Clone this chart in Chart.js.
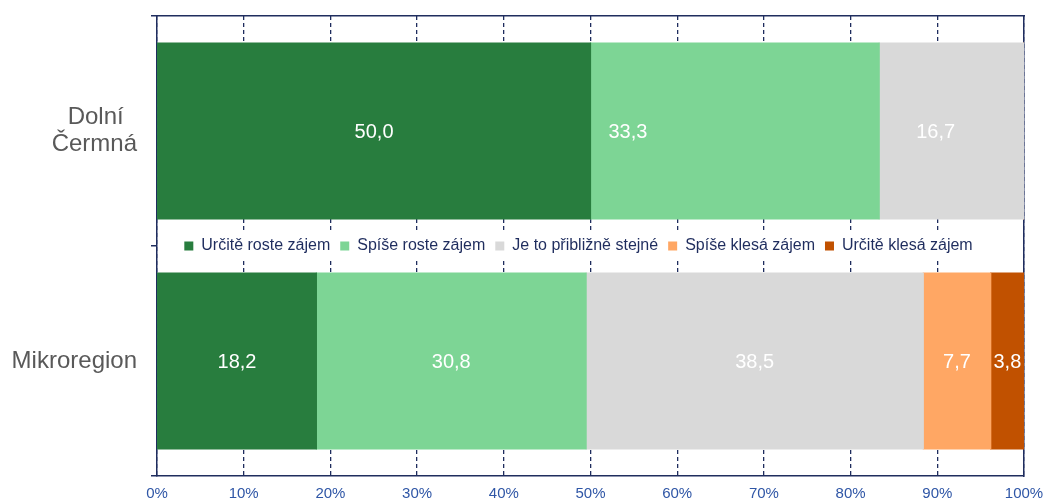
<!DOCTYPE html>
<html>
<head>
<meta charset="utf-8">
<script src="https://cdn.jsdelivr.net/npm/chart.js@4/dist/chart.umd.min.js"></script>
<style>
  html, body { margin: 0; padding: 0; background: #ffffff; }
  #c { display: block; }
</style>
</head>
<body>
<canvas id="c" width="1045" height="502"></canvas>
<script>
// ---- data ----
const categories = [['Dolní  ', 'Čermná'], 'Mikroregion'];
const seriesNames = ['Určitě roste zájem', 'Spíše roste zájem', 'Je to přibližně stejné', 'Spíše klesá zájem', 'Určitě klesá zájem'];
const urciteRoste = [50.0, 18.2];
const spiseRoste = [33.3, 30.8];
const stejne = [16.7, 38.5];
const spiseKlesa = [0, 7.7];
const urciteKlesa = [0, 3.8];
const xTickStep = 10;

// ---- styles ----
const seriesColors = ['#287D3E', '#7DD595', '#D9D9D9', '#FFA764', '#C15100'];
const NAVY = '#1F2D5E';
const FONT = '"Liberation Sans", Arial, sans-serif';
// manual horizontal nudges of some value labels (dataset,category -> px), as in the original
const labelNudge = { '1,0': -107, '2,0': -16 };

const raw = [urciteRoste, spiseRoste, stejne, spiseKlesa, urciteKlesa];
const totals = categories.map((_, i) => raw.reduce((s, a) => s + a[i], 0));

Chart.defaults.font.family = FONT;

const datasets = raw.map((vals, k) => ({
  label: seriesNames[k],
  data: vals.map((v, i) => v / totals[i] * 100),
  values: vals,
  backgroundColor: seriesColors[k],
  borderWidth: 0,
  inflateAmount: 0.6,
  categoryPercentage: 1,
  barPercentage: 0.765,
  xAxisID: 'x',
  yAxisID: 'y'
}));

function noPad(s) {
  s.paddingTop = 0; s.paddingBottom = 0; s.paddingLeft = 0; s.paddingRight = 0;
}

const legendPlacer = {
  id: 'legendPlacer',
  beforeLayout(chart) {
    const lg = chart.legend;
    if (lg && !lg._patched) {
      lg._patched = true;
      const origFit = lg.fit.bind(lg);
      lg.fit = function () { origFit(); this._realH = this.height; this.height = 0; };
      const origDraw = lg.draw.bind(lg);
      lg.draw = function (area) {
        const hb = this.legendHitBoxes || [];
        if (hb.length) {
          const ctx = chart.ctx;
          let l = Infinity, r = -Infinity;
          hb.forEach(b => { l = Math.min(l, b.left); r = Math.max(r, b.left + b.width); });
          const cy = (this.top + this.bottom) / 2;
          ctx.save();
          ctx.fillStyle = '#ffffff';
          ctx.fillRect(l - 6, cy - 13, (r - l) + 12, 26);
          ctx.restore();
        }
        origDraw(area);
      };
    }
  },
  afterLayout(chart) {
    const lg = chart.legend;
    const ca = chart.chartArea;
    const y = chart.scales.y;
    const cy = (y.getPixelForValue(0) + y.getPixelForValue(1)) / 2;
    const h = lg._realH || 30;
    lg.top = cy - h / 2;
    lg.bottom = lg.top + h;
    lg.height = h;
    const cx = (ca.left + ca.right) / 2 - 12;
    lg.left = cx - 440;
    lg.right = cx + 440;
    lg.width = 880;
  }
};

const valueLabels = {
  id: 'valueLabels',
  afterDatasetsDraw(chart) {
    const ctx = chart.ctx;
    ctx.save();
    ctx.font = '20px ' + FONT;
    ctx.fillStyle = '#FFFFFF';
    ctx.textAlign = 'center';
    ctx.textBaseline = 'middle';
    chart.data.datasets.forEach((ds, di) => {
      const meta = chart.getDatasetMeta(di);
      meta.data.forEach((el, i) => {
        const v = ds.values[i];
        if (!v) return;
        const p = el.getCenterPoint();
        const dx = labelNudge[di + ',' + i] || 0;
        ctx.fillText(v.toFixed(1).replace('.', ','), p.x + dx, p.y + 1);
      });
    });
    ctx.restore();
  }
};

new Chart(document.getElementById('c'), {
  type: 'bar',
  data: { labels: categories, datasets },
  plugins: [legendPlacer, valueLabels],
  options: {
    indexAxis: 'y',
    responsive: false,
    animation: false,
    devicePixelRatio: 1,
    layout: { padding: { top: 16, right: 21, left: 0, bottom: 0 } },
    plugins: {
      tooltip: { enabled: false },
      legend: {
        position: 'top',
        align: 'center',
        labels: {
          boxWidth: 9,
          boxHeight: 9,
          padding: 10,
          color: NAVY,
          font: { size: 16, family: FONT }
        }
      }
    },
    scales: {
      x: {
        type: 'linear',
        position: 'bottom',
        stacked: true,
        min: 0,
        max: 100,
        ticks: {
          stepSize: xTickStep,
          callback: v => v + '%',
          color: '#2F56A6',
          font: { size: 15, family: FONT },
          padding: 9,
          maxRotation: 0,
          autoSkip: false
        },
        grid: { color: NAVY, lineWidth: 1.3, drawTicks: false },
        border: { display: true, color: NAVY, width: 1.5, dash: [4, 3] },
        afterFit: s => { s.height = 26; noPad(s); }
      },
      xTop: {
        type: 'linear',
        position: 'top',
        min: 0,
        max: 100,
        ticks: { display: false },
        grid: { display: false, drawTicks: false },
        border: { display: true, color: NAVY, width: 1.5 },
        afterFit: s => { s.height = 0; noPad(s); }
      },
      y: {
        type: 'category',
        position: 'left',
        stacked: true,
        offset: true,
        ticks: {
          color: '#595959',
          font: { size: 24, family: FONT, lineHeight: 1.15 },
          padding: 14
        },
        grid: { offset: true, drawOnChartArea: false, drawTicks: true, tickLength: 6, color: NAVY, lineWidth: 1.5 },
        border: { display: true, color: NAVY, width: 1.5 },
        afterFit: s => { s.width = 157; noPad(s); }
      },
      yRight: {
        type: 'category',
        position: 'right',
        offset: true,
        ticks: { display: false },
        grid: { display: false, drawTicks: false },
        border: { display: true, color: NAVY, width: 1.5 },
        afterFit: s => { s.width = 0; noPad(s); }
      }
    }
  }
});
</script>
</body>
</html>
